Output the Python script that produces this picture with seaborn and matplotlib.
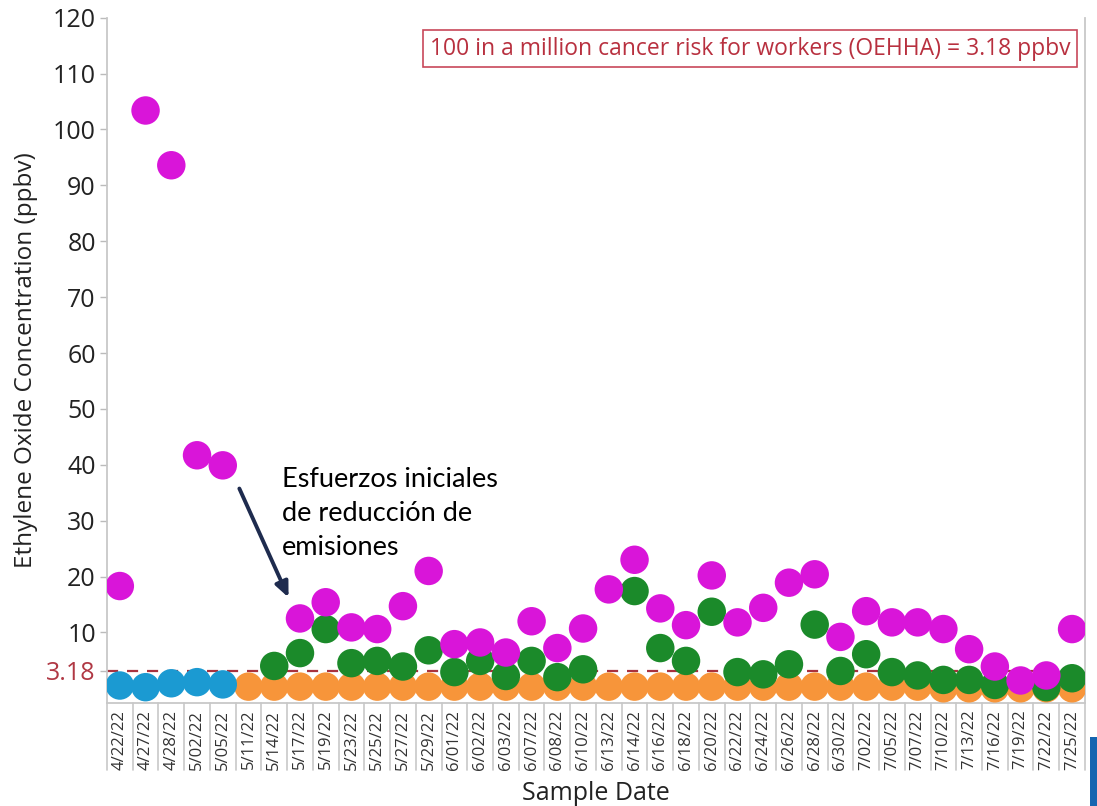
import pandas as pd
import numpy as np
import matplotlib.pyplot as plt
import matplotlib.transforms as mtransforms
import seaborn as sns

# Datum för proverna
datum = ["4/22/22", "4/27/22", "4/28/22", "5/02/22", "5/05/22", "5/11/22", "5/14/22",
         "5/17/22", "5/19/22", "5/23/22", "5/25/22", "5/27/22", "5/29/22", "6/01/22",
         "6/02/22", "6/03/22", "6/07/22", "6/08/22", "6/10/22", "6/13/22", "6/14/22",
         "6/16/22", "6/18/22", "6/20/22", "6/22/22", "6/24/22", "6/26/22", "6/28/22",
         "6/30/22", "7/02/22", "7/05/22", "7/07/22", "7/10/22", "7/13/22", "7/16/22",
         "7/19/22", "7/22/22", "7/25/22"]

nan = np.nan
# Serier (ppbv)
magenta = [18.3, 103.4, 93.6, 41.7, 39.9, nan, nan,
           12.5, 15.4, 10.9, 10.6, 14.7, 21.0, 7.9,
           8.2, 6.4, 12.0, 7.2, 10.7, 17.7, 23.0,
           14.3, 11.3, 20.2, 11.8, 14.4, 18.9, 20.4,
           9.2, 13.8, 11.8, 11.8, 10.6, 7.0, 3.9,
           1.4, 2.3, 10.6]
gron = [nan, nan, nan, nan, nan, nan, 4.0,
        6.3, 10.6, 4.5, 4.9, 3.9, 6.8, 2.9,
        4.9, 2.2, 4.9, 2.0, 3.4, nan, 17.4,
        7.2, 4.9, 13.7, 2.9, 2.5, 4.3, 11.4,
        3.1, 6.1, 2.9, 2.3, 1.5, 1.5, 0.6,
        nan, 0.2, 1.8]
bla = [0.5, 0.2, 0.9, 1.1, 0.7] + [nan] * 33
orange = [nan] * 5 + [0.3] * 27 + [0.0] * 6

riskniva = 3.18

serier = {"orange": orange, "bla": bla, "gron": gron, "magenta": magenta}
farger = {"orange": "#F7953A", "bla": "#1B9AD2", "gron": "#1B8A2A", "magenta": "#D915D9"}

rader = []
for namn, varden in serier.items():
    for d, v in zip(datum, varden):
        if not np.isnan(v):
            rader.append({"Datum": d, "Varde": v, "Serie": namn})
df = pd.DataFrame(rader)
df["Datum"] = pd.Categorical(df["Datum"], categories=datum, ordered=True)
df["pos"] = df["Datum"].cat.codes

sns.set_style("white")
plt.rcParams["font.family"] = ["Open Sans", "DejaVu Sans"]

fig = plt.figure(figsize=(10.97, 8.06), dpi=100)
ax = fig.add_axes([0.0975, 0.128, 0.8915, 0.85])

sns.scatterplot(data=df, x="pos", y="Varde", hue="Serie", palette=farger,
                s=420, edgecolor="none", legend=False, ax=ax, zorder=3)

# Streckad linje för risknivån
ax.axhline(riskniva, color="#A8323E", linestyle=(0, (5, 4)), linewidth=1.6, zorder=2)

ax.set_xlim(-0.5, len(datum) - 0.5)
ax.set_ylim(-2.6, 120)
ax.set_xticks(range(len(datum)))
ax.set_xticklabels(datum, rotation=90, fontsize=12, color="#333333")
ax.tick_params(axis="x", length=0, pad=5)

yticks = [riskniva] + list(range(10, 121, 10))
ax.set_yticks(yticks)
ax.set_yticklabels(["3.18"] + [str(t) for t in range(10, 121, 10)], fontsize=18, color="#222222")
ax.get_yticklabels()[0].set_color("#B03844")
ax.tick_params(axis="y", length=5, width=1, color="#BBBBBB", left=True, pad=3)

for side in ["left", "bottom", "right"]:
    ax.spines[side].set_color("#C8C8C8")
    ax.spines[side].set_linewidth(1.3)
ax.spines["top"].set_visible(False)

# Skiljelinjer mellan datumetiketterna
trans = mtransforms.blended_transform_factory(ax.transData, ax.transAxes)
for i in range(len(datum) + 1):
    ax.plot([i - 0.5, i - 0.5], [0, -0.098], transform=trans, color="#C8C8C8",
            linewidth=1.2, clip_on=False)

ax.set_xlabel("Sample Date", fontsize=18, color="#222222", labelpad=8)
ax.set_ylabel("Ethylene Oxide Concentration (ppbv)", fontsize=17.5, color="#222222", labelpad=6)

# Textruta uppe till höger
ax.text(0.985, 0.955, "100 in a million cancer risk for workers (OEHHA) = 3.18 ppbv",
        transform=ax.transAxes, ha="right", va="center", fontsize=16.5, color="#B8303F",
        bbox=dict(boxstyle="square,pad=0.3", facecolor="white", edgecolor="#C8485A", linewidth=1.2))

# Annotering med pil
ax.annotate("", xy=(6.6, 15.8), xytext=(4.6, 36.2),
            arrowprops=dict(arrowstyle="-|>,head_length=0.9,head_width=0.4",
                            color="#1E2B4E", linewidth=2.8), zorder=4)
ax.text(6.3, 39.6, "Esfuerzos iniciales\nde reducción de\nemisiones", fontsize=19.5,
        family=["Lato", "DejaVu Sans"], color="black", ha="left", va="top", linespacing=1.45)

# Blå list nere till höger (från bilden)
fig.patches.append(plt.Rectangle((0.9935, 0.0), 0.0065, 0.085, transform=fig.transFigure,
                                 facecolor="#1565B0", edgecolor="none"))

plt.savefig("out.png", dpi=100)
